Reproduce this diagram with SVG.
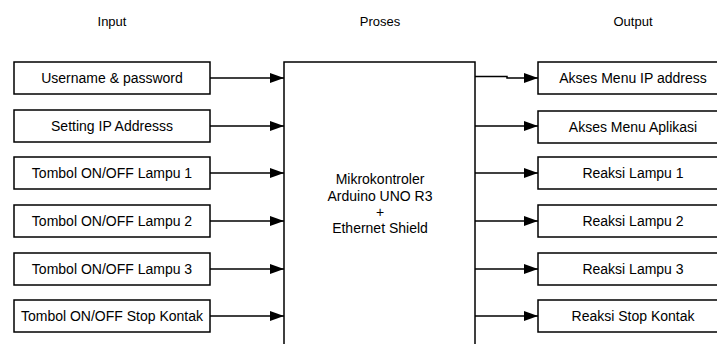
<svg xmlns="http://www.w3.org/2000/svg" width="717" height="344" viewBox="0 0 717 344">
<style>
  .box { fill: #fff; stroke: #000; stroke-width: 1.5; }
  .t { font-family: "Liberation Sans", Arial, sans-serif; font-size: 14px; fill: #000; text-anchor: middle; }
  .h { font-family: "Liberation Sans", Arial, sans-serif; font-size: 13px; fill: #000; text-anchor: middle; }
  .c { fill: none; stroke: #000; stroke-width: 1.5; }
</style>
<defs>
  <marker id="ah" viewBox="0 0 14 10" refX="14" refY="5" markerWidth="14" markerHeight="10" markerUnits="userSpaceOnUse" orient="auto">
    <path d="M0,0 L14,5 L0,10 Z" fill="#000"/>
  </marker>
</defs>
<rect width="717" height="344" fill="#fff"/>
<text class="h" x="112" y="26">Input</text>
<text class="h" x="380" y="26">Proses</text>
<text class="h" x="633" y="26">Output</text>

<g id="connectors">
  <line class="c" x1="210" y1="78" x2="284" y2="78" marker-end="url(#ah)"/>
  <line class="c" x1="210" y1="126" x2="284" y2="126" marker-end="url(#ah)"/>
  <line class="c" x1="210" y1="173" x2="284" y2="173" marker-end="url(#ah)"/>
  <line class="c" x1="210" y1="221" x2="284" y2="221" marker-end="url(#ah)"/>
  <line class="c" x1="210" y1="269" x2="284" y2="269" marker-end="url(#ah)"/>
  <line class="c" x1="210" y1="316" x2="284" y2="316" marker-end="url(#ah)"/>
  <polyline class="c" points="475,76.5 507,76.5 507,78 538,78" marker-end="url(#ah)"/>
  <line class="c" x1="475" y1="126" x2="538" y2="126" marker-end="url(#ah)"/>
  <line class="c" x1="475" y1="173" x2="538" y2="173" marker-end="url(#ah)"/>
  <line class="c" x1="475" y1="221" x2="538" y2="221" marker-end="url(#ah)"/>
  <line class="c" x1="475" y1="269" x2="538" y2="269" marker-end="url(#ah)"/>
  <line class="c" x1="475" y1="316" x2="538" y2="316" marker-end="url(#ah)"/>
</g>

<g id="in1"><rect class="box" x="14" y="62" width="196" height="32"/><text class="t" x="112" y="83">Username &amp; password</text></g>
<g id="in2"><rect class="box" x="14" y="110" width="196" height="32"/><text class="t" x="112" y="131">Setting IP Addresss</text></g>
<g id="in3"><rect class="box" x="14" y="157" width="196" height="32"/><text class="t" x="112" y="178">Tombol ON/OFF Lampu 1</text></g>
<g id="in4"><rect class="box" x="14" y="205" width="196" height="32"/><text class="t" x="112" y="226">Tombol ON/OFF Lampu 2</text></g>
<g id="in5"><rect class="box" x="14" y="253" width="196" height="32"/><text class="t" x="112" y="274">Tombol ON/OFF Lampu 3</text></g>
<g id="in6"><rect class="box" x="14" y="300" width="196" height="32"/><text class="t" x="112" y="321">Tombol ON/OFF Stop Kontak</text></g>

<g id="proses">
  <rect class="box" x="284" y="62" width="191" height="300"/>
  <text class="t" x="380" y="184">Mikrokontroler</text>
  <text class="t" x="380" y="200.5">Arduino UNO R3</text>
  <text class="t" x="380" y="216.5">+</text>
  <text class="t" x="380" y="233">Ethernet Shield</text>
</g>

<g id="out1"><rect class="box" x="538" y="62" width="190" height="32"/><text class="t" x="633" y="83">Akses Menu IP address</text></g>
<g id="out2"><rect class="box" x="538" y="111" width="190" height="32"/><text class="t" x="633" y="131.5">Akses Menu Aplikasi</text></g>
<g id="out3"><rect class="box" x="538" y="157" width="190" height="32"/><text class="t" x="633" y="178">Reaksi Lampu 1</text></g>
<g id="out4"><rect class="box" x="538" y="205" width="190" height="32"/><text class="t" x="633" y="226">Reaksi Lampu 2</text></g>
<g id="out5"><rect class="box" x="538" y="253" width="190" height="32"/><text class="t" x="633" y="274">Reaksi Lampu 3</text></g>
<g id="out6"><rect class="box" x="538" y="300" width="190" height="32"/><text class="t" x="633" y="321">Reaksi Stop Kontak</text></g>
</svg>
